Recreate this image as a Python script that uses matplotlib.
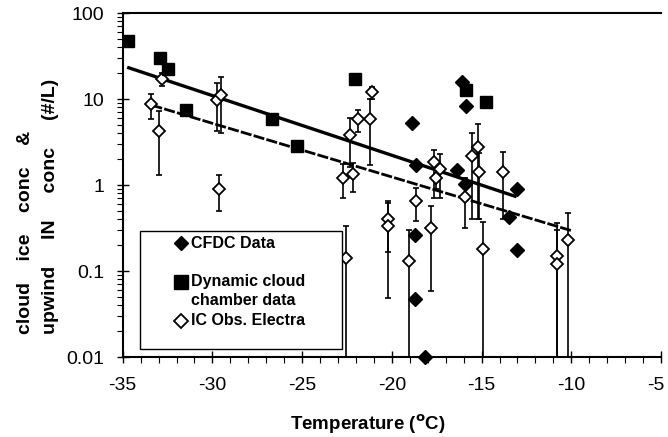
import matplotlib
matplotlib.use("Agg")
import matplotlib.pyplot as plt
from matplotlib.patches import Rectangle
from matplotlib.transforms import ScaledTranslation
import numpy as np

plt.rcParams['font.family'] = ['Liberation Sans', 'DejaVu Sans']

# ---- data ----
cfdc_T = [-16.1, -15.85, -18.85, -18.65, -16.35, -15.95, -13.05, -13.45, -13.05, -18.7, -18.7, -18.15]
cfdc_y = [15.8, 8.2, 5.3, 1.71, 1.48, 1.03, 0.89, 0.43, 0.175, 0.26, 0.047, 0.0101]

chamber_T = [-34.7, -32.9, -32.5, -31.5, -26.7, -25.3, -22.05, -15.85, -14.75]
chamber_y = [47, 30, 22.5, 7.4, 5.9, 2.86, 16.9, 12.6, 9.2]

ic_T = [-32.8, -33.4, -32.95, -29.72, -29.5, -29.63, -21.13, -21.2, -21.9, -22.32,
        -22.75, -22.14, -22.55, -20.22, -20.22, -18.64, -17.82, -19.03, -14.94, -17.64,
        -17.3, -17.54, -15.53, -15.22, -15.13, -13.83, -15.95, -10.8, -10.8, -10.2]
ic_y = [17, 8.7, 4.28, 9.7, 11.1, 0.91, 12.0, 5.85, 5.85, 3.81,
        1.22, 1.33, 0.14, 0.40, 0.33, 0.65, 0.32, 0.13, 0.18, 1.84,
        1.52, 1.2, 2.19, 2.74, 1.41, 1.41, 0.73, 0.15, 0.12, 0.23]
ic_hi = [19.9, 11.4, 7.25, 15.2, 18.2, 1.31, 13.9, 9.9, 7.4, 6.06,
         1.74, 1.79, 0.336, 0.65, 0.61, 0.92, 0.575, 0.30, 0.37, 2.55,
         2.29, 1.5, 4.06, 5.08, 2.35, 2.44, 1.2, 0.36, 0.30, 0.47]
ic_lo = [14.3, 5.85, 1.31, 4.2, 4.0, 0.50, 9.9, 1.71, 4.17, 1.63,
         0.70, 0.82, 0.001, 0.168, 0.049, 0.385, 0.059, 0.001, 0.001, 0.70,
         0.70, 0.9, 0.40, 0.40, 0.40, 0.40, 0.32, 0.001, 0.001, 0.001]

fit_solid_T = [-34.75, -13.05]
fit_solid_y = [23.4, 0.73]
fit_dash_T = [-33.4, -10.0]
fit_dash_y = [8.5, 0.295]

xticks = [-35, -30, -25, -20, -15, -10, -5]
yticks = [0.01, 0.1, 1, 10, 100]
ytick_labels = ["0.01", "0.1", "1", "10", "100"]

# ---- figure ----
fig = plt.figure(figsize=(6.68, 4.37), dpi=100)
ax = fig.add_axes([122.7/668, 1-357/437, 538.3/668, 344/437])
ax.set_yscale('log')
ax.set_xlim(-35, -5)
ax.set_ylim(0.01, 100)

ic_y_arr = np.array(ic_y)
yerr = np.vstack([ic_y_arr - np.array(ic_lo), np.array(ic_hi) - ic_y_arr])
ax.errorbar(ic_T, ic_y, yerr=yerr, fmt='none', ecolor='black', elinewidth=1.2,
            capsize=2.4, capthick=1.2, zorder=2)

ax.plot(fit_solid_T, fit_solid_y, color='black', lw=2.4, zorder=3, solid_capstyle='butt')
ax.plot(fit_dash_T, fit_dash_y, color='black', lw=2.0, zorder=3, dashes=(4, 0.8))

ax.plot(ic_T, ic_y, linestyle='none', marker='D', ms=6.5, mfc='white', mec='black',
        mew=1.3, zorder=4, clip_on=False)
ax.plot(chamber_T, chamber_y, linestyle='none', marker='s', ms=8.5, color='black', zorder=5)
ax.plot(cfdc_T, cfdc_y, linestyle='none', marker='D', ms=6.8, color='black', zorder=5,
        clip_on=False)

# ticks
ax.set_xticks(xticks)
ax.set_xticklabels([str(t) for t in xticks])
ax.set_xticks(np.arange(-35, -4, 1), minor=True)
ax.set_yticks(yticks)
ax.set_yticklabels(ytick_labels)
ax.tick_params(axis='both', which='major', direction='inout', length=9, width=1.0,
               labelsize=14, color='black')
ax.tick_params(axis='both', which='minor', direction='out', length=4, width=0.8)
ax.tick_params(axis='x', which='major', pad=10)
ax.tick_params(axis='y', which='major', pad=9)

# keep the last x tick label inside the figure
last = ax.xaxis.get_major_ticks()[-1].label1
last.set_transform(last.get_transform() + ScaledTranslation(-5/100, 0, fig.dpi_scale_trans))

for s in ['left', 'bottom', 'top']:
    ax.spines[s].set_linewidth(1.5)
ax.spines['right'].set_visible(False)

# labels
fig.text(38/668, 1-206/437, "cloud    ice    conc    &\nupwind     IN     conc     (#/L)",
         rotation=90, ha='center', va='center', multialignment='left',
         fontsize=14, fontweight='bold', linespacing=1.55)
fig.text(368/668, 1-424/437, "Temperature ($\\mathbf{^{o}}$C)", ha='center', va='center',
         fontsize=13.5, fontweight='bold')

# legend (manual)
ax.add_patch(Rectangle((0.032, 0.022), 0.376, 0.344, transform=ax.transAxes,
                       fill=True, facecolor='white', edgecolor='black', lw=1.0, zorder=6))
ax.plot([0.109], [0.331], transform=ax.transAxes, marker='D', ms=7.5, color='black',
        zorder=7, clip_on=False)
ax.plot([0.109], [0.217], transform=ax.transAxes, marker='s', ms=10, color='black',
        zorder=7, clip_on=False)
ax.plot([0.109], [0.105], transform=ax.transAxes, marker='D', ms=7, mfc='white',
        mec='black', mew=1.3, zorder=7, clip_on=False)
lkw = dict(transform=ax.transAxes, fontsize=11.5, fontweight='bold', va='center',
           ha='left', zorder=8)
ax.text(0.127, 0.331, "CFDC Data", **lkw)
ax.text(0.127, 0.219, "Dynamic cloud", **lkw)
ax.text(0.127, 0.164, "chamber data", **lkw)
ax.text(0.127, 0.105, "IC Obs. Electra", **lkw)

fig.savefig("out.png", dpi=100)
